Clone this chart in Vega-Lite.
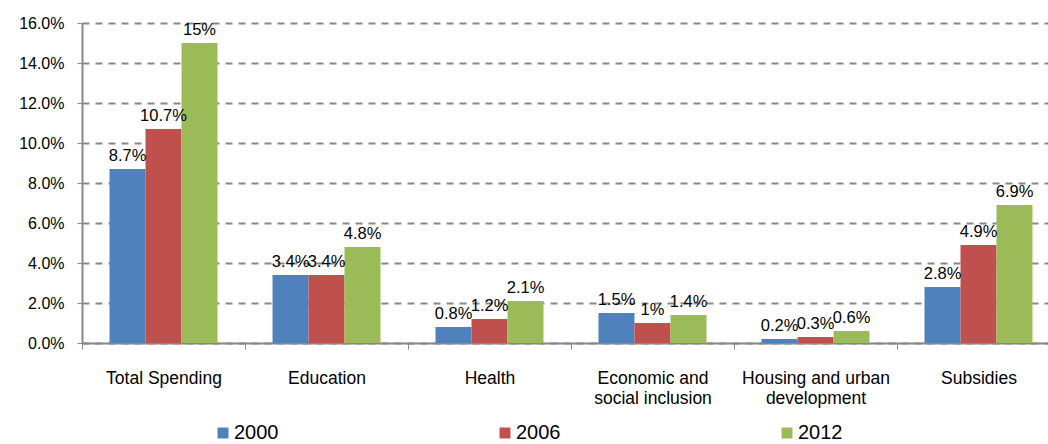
{
  "$schema": "https://vega.github.io/schema/vega-lite/v6.json",
  "autosize": "none",
  "width": 966,
  "height": 320,
  "padding": {"left": 82, "top": 23, "right": 0, "bottom": 101},
  "background": "white",
  "config": {
    "font": "Liberation Sans",
    "view": {"stroke": null}
  },
  "data": {
    "values": [
      {"category": "Total Spending", "year": "2000", "value": 0.087},
      {"category": "Total Spending", "year": "2006", "value": 0.107},
      {"category": "Total Spending", "year": "2012", "value": 0.15},
      {"category": "Education", "year": "2000", "value": 0.034},
      {"category": "Education", "year": "2006", "value": 0.034},
      {"category": "Education", "year": "2012", "value": 0.048},
      {"category": "Health", "year": "2000", "value": 0.008},
      {"category": "Health", "year": "2006", "value": 0.012},
      {"category": "Health", "year": "2012", "value": 0.021},
      {"category": "Economic and social inclusion", "year": "2000", "value": 0.015},
      {"category": "Economic and social inclusion", "year": "2006", "value": 0.01},
      {"category": "Economic and social inclusion", "year": "2012", "value": 0.014},
      {"category": "Housing and urban development", "year": "2000", "value": 0.002},
      {"category": "Housing and urban development", "year": "2006", "value": 0.003},
      {"category": "Housing and urban development", "year": "2012", "value": 0.006},
      {"category": "Subsidies", "year": "2000", "value": 0.028},
      {"category": "Subsidies", "year": "2006", "value": 0.049},
      {"category": "Subsidies", "year": "2012", "value": 0.069}
    ]
  },
  "encoding": {
    "x": {
      "field": "category",
      "type": "nominal",
      "sort": null,
      "scale": {"paddingInner": 0, "paddingOuter": 0, "range": [0, 978]},
      "axis": {
        "title": null,
        "labelAngle": 0,
        "labelFontSize": 17.5,
        "labelColor": "black",
        "labelPadding": 20,
        "labelExpr": "datum.value == 'Economic and social inclusion' ? ['Economic and', 'social inclusion'] : datum.value == 'Housing and urban development' ? ['Housing and urban', 'development'] : datum.value",
        "labelLineHeight": 20,
        "tickBand": "extent",
        "tickSize": 6,
        "tickColor": "#888888",
        "domainColor": "#888888",
        "domainWidth": 2,
        "grid": false
      }
    },
    "xOffset": {
      "field": "year",
      "type": "nominal",
      "scale": {"paddingInner": 0, "paddingOuter": 0.764}
    },
    "y": {
      "field": "value",
      "type": "quantitative",
      "scale": {"domain": [0, 0.16], "nice": false},
      "axis": {
        "title": null,
        "format": ".1%",
        "values": [0, 0.02, 0.04, 0.06, 0.08, 0.1, 0.12, 0.14, 0.16],
        "labelFontSize": 16,
        "labelColor": "black",
        "labelPadding": 13,
        "tickSize": 5,
        "tickColor": "#888888",
        "domainColor": "#888888",
        "domainWidth": 2,
        "grid": true,
        "gridColor": "#888888",
        "gridDash": [7, 6],
        "gridWidth": 1.8
      }
    }
  },
  "layer": [
    {
      "mark": {"type": "bar"},
      "encoding": {
        "color": {
          "field": "year",
          "type": "nominal",
          "scale": {"domain": ["2000", "2006", "2012"], "range": ["#4F81BD", "#C0504D", "#9BBB59"]},
          "legend": {
            "title": null,
            "orient": "none",
            "legendX": 131,
            "legendY": 400,
            "direction": "horizontal",
            "columns": 3,
            "columnPadding": 216,
            "symbolType": "square",
            "symbolSize": 120,
            "symbolStrokeWidth": 0,
            "symbolOffset": 0,
            "labelOffset": 1,
            "labelFontSize": 20,
            "labelColor": "black"
          }
        }
      }
    },
    {
      "mark": {"type": "text", "baseline": "bottom", "dy": -5, "fontSize": 16.5, "color": "black"},
      "encoding": {
        "text": {"field": "value", "type": "quantitative", "format": "~%"}
      }
    }
  ]
}
